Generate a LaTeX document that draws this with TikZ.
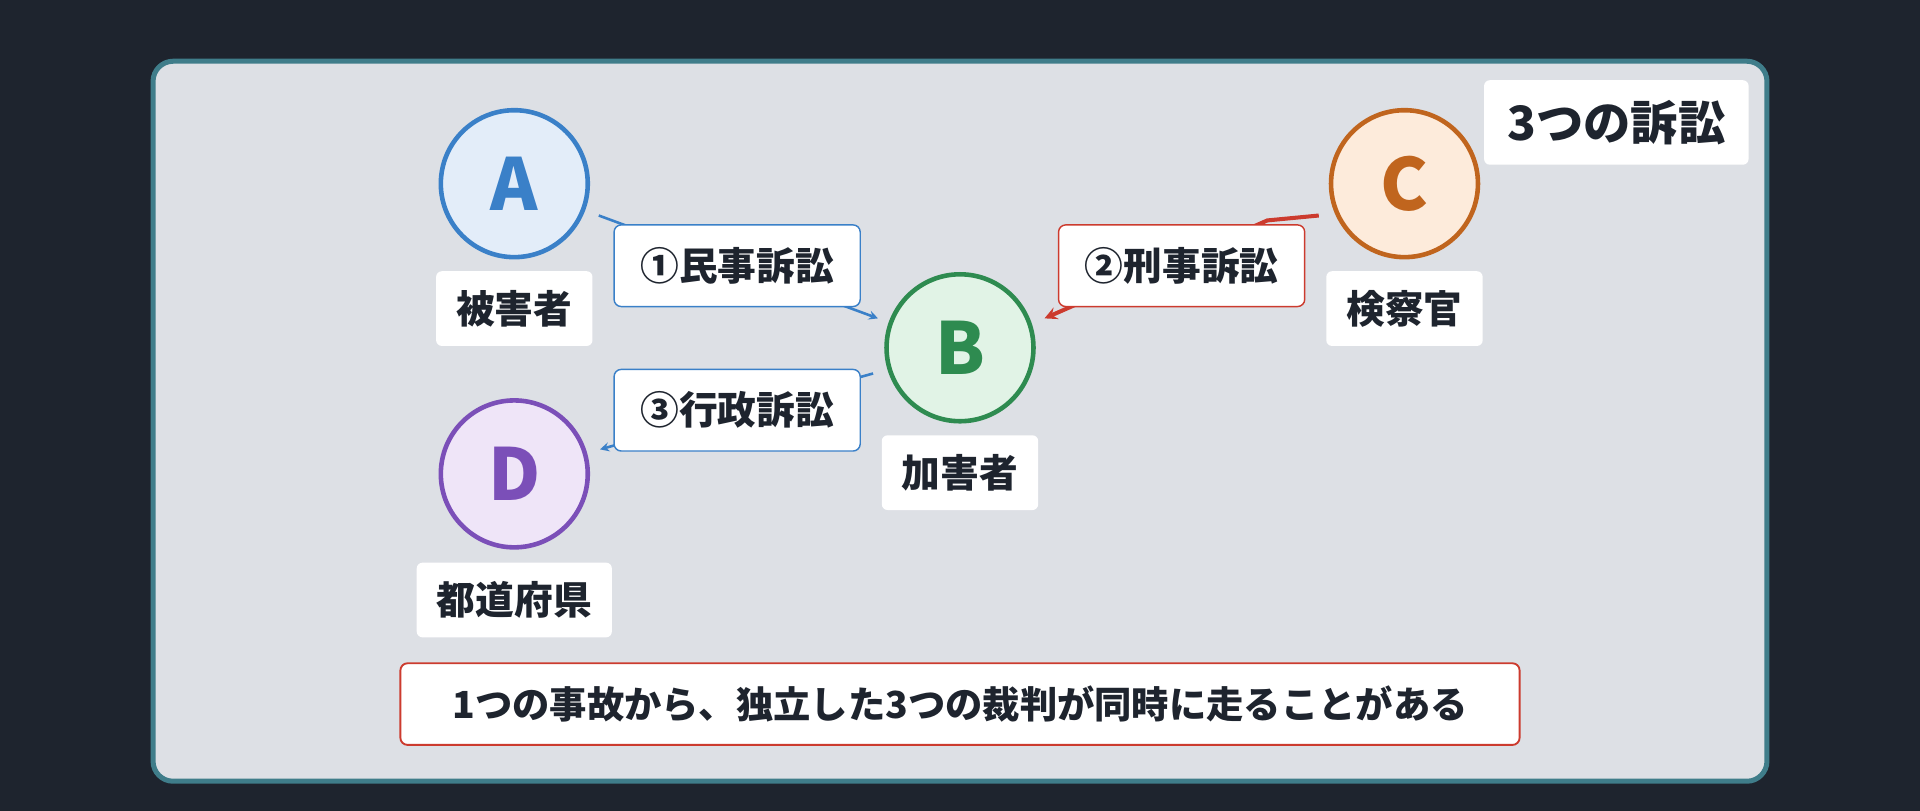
\documentclass[tikz,border=0pt]{standalone}
\usepackage{fontspec}
\setmainfont{Noto Sans CJK JP}
\definecolor{bgdark}{HTML}{1E242E}
\definecolor{panel}{HTML}{DDE0E5}
\definecolor{teal}{HTML}{3F7D8A}
\definecolor{blueL}{HTML}{3A80C8}\definecolor{blueF}{HTML}{E3EDF9}
\definecolor{greenL}{HTML}{2E8B50}\definecolor{greenF}{HTML}{E1F3E6}
\definecolor{orangeL}{HTML}{C0651E}\definecolor{orangeF}{HTML}{FDEBDB}
\definecolor{purpleL}{HTML}{7B4FB8}\definecolor{purpleF}{HTML}{EFE5F8}
\definecolor{redL}{HTML}{CC3B2E}
\definecolor{txt}{HTML}{1E242E}
\begin{document}
\begin{tikzpicture}[x=0.03cm,y=-0.03cm,
    pnode/.style={draw,circle,line width=3.2pt,minimum size=3.6cm,inner sep=0pt,font=\fontsize{50}{50}\selectfont\bfseries},
    lbox/.style={fill=white,rounded corners=4pt,minimum height=1.83cm,inner xsep=14pt,font=\fontsize{27}{27}\selectfont\bfseries,text=txt},
    ebox/.style={fill=white,draw,line width=1pt,rounded corners=5pt,minimum width=6.03cm,minimum height=2cm,font=\fontsize{27}{27}\selectfont\bfseries,text=txt}]
    \fill[bgdark] (0,0) rectangle (1568,662);
    \draw[fill=panel,draw=teal,line width=3.5pt,rounded corners=14pt] (125,50) rectangle (1443,638);

    \node[lbox,minimum width=6.48cm,minimum height=2.07cm,font=\fontsize{33}{33}\selectfont\bfseries] (title) at (1320,100) {3つの訴訟};

    \node[pnode,fill=blueF,draw=blueL,text=blueL] (A) at (420,150) {A};
    \node[pnode,fill=greenF,draw=greenL,text=greenL] (B) at (784,284) {B};
    \node[pnode,fill=orangeF,draw=orangeL,text=orangeL] (C) at (1147,150) {C};
    \node[pnode,fill=purpleF,draw=purpleL,text=purpleL] (D) at (420,387) {D};

    \coordinate (Aout) at (489,176);
    \coordinate (Bin1) at (717,260);
    \coordinate (Cout) at (1077,176);
    \coordinate (Cbend) at (1035,180);
    \coordinate (Bin2) at (853,260);
    \coordinate (Bout) at (713,305);
    \coordinate (Din) at (490,367);

    \draw[blueL,line width=1.8pt,-stealth] (Aout) -- (Bin1);
    \draw[redL,line width=2.8pt,-stealth] (Cout) -- (Cbend) -- (Bin2);
    \draw[blueL,line width=1.8pt,-stealth] (Bout) -- (Din);

    \node[ebox,draw=blueL] (civil) at (602,217) {①民事訴訟};
    \node[ebox,draw=redL] (crim) at (965,217) {②刑事訴訟};
    \node[ebox,draw=blueL] (admin) at (602,335) {③行政訴訟};

    \node[lbox] (victim) at (420,252) {被害者};
    \node[lbox] (offender) at (784,386) {加害者};
    \node[lbox] (prosec) at (1147,252) {検察官};
    \node[lbox] (pref) at (420,490) {都道府県};

    \node[ebox,draw=redL,line width=1.3pt,minimum width=27.42cm,font=\fontsize{26}{26}\selectfont\bfseries] (note) at (784,575) {1つの事故から、独立した3つの裁判が同時に走ることがある};
\end{tikzpicture}
\end{document}
